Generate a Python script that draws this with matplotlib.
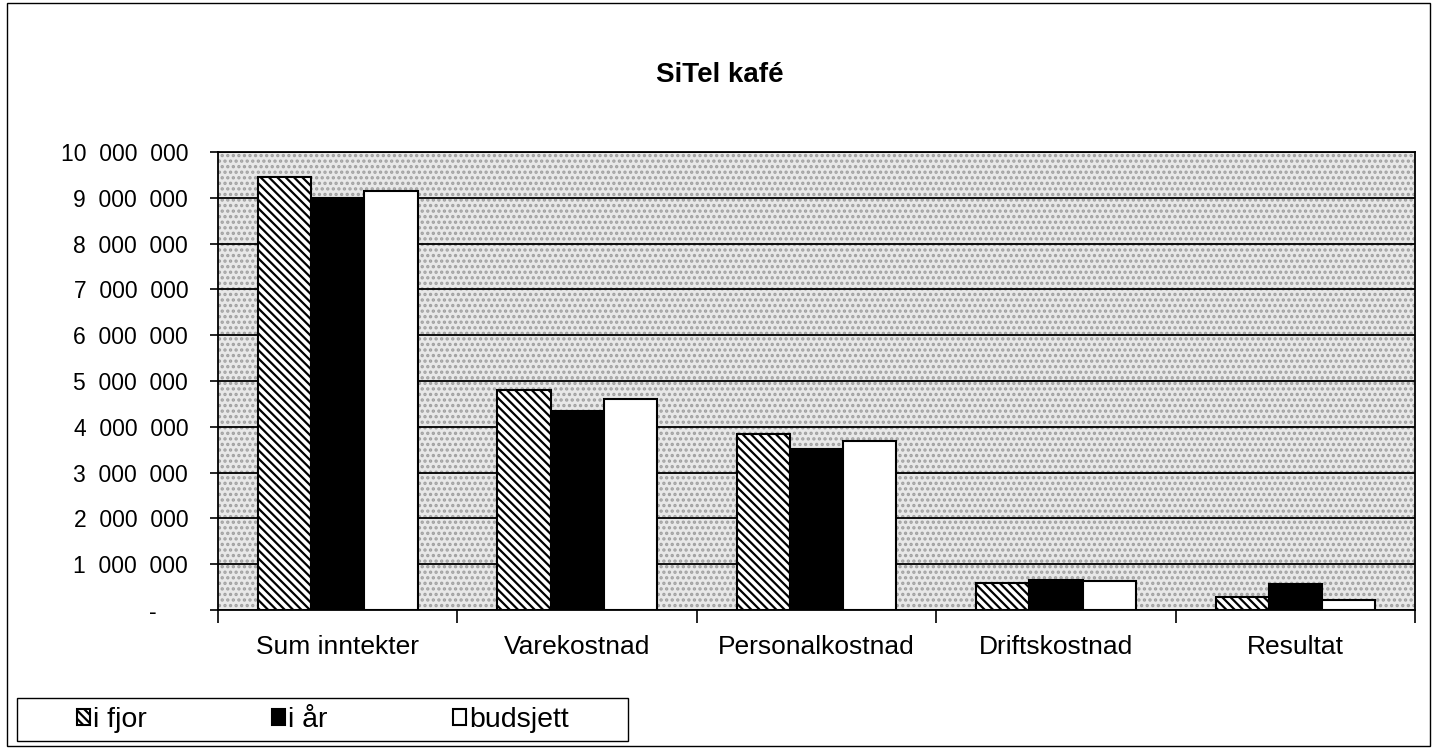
import matplotlib
matplotlib.use("Agg")
import matplotlib.pyplot as plt
import numpy as np
from matplotlib.patches import Rectangle
from matplotlib.ticker import FuncFormatter, FixedLocator

plt.rcParams['font.family'] = ['Liberation Sans', 'DejaVu Sans']
plt.rcParams['hatch.linewidth'] = 1.6

categories = ["Sum inntekter", "Varekostnad", "Personalkostnad", "Driftskostnad", "Resultat"]
i_fjor = [9450000, 4800000, 3840000, 600000, 290000]
i_aar = [9000000, 4340000, 3510000, 650000, 570000]
budsjett = [9150000, 4610000, 3700000, 640000, 220000]
series_names = ["i fjor", "i år", "budsjett"]
y_ticks = [0, 1000000, 2000000, 3000000, 4000000, 5000000, 6000000, 7000000, 8000000, 9000000, 10000000]

W, H = 1435, 751
fig = plt.figure(figsize=(W / 100, H / 100), dpi=100)
fig.patch.set_facecolor('white')

# outer chart border
fig.patches.append(Rectangle((7 / W, 1 - 746 / H), (1430 - 7) / W, (746 - 3) / H,
                             transform=fig.transFigure, fill=False, ec='black', lw=1.0))

ax = fig.add_axes([218 / W, 1 - 610 / H, (1415 - 218) / W, (610 - 152) / H])
ax.set_facecolor('#e8e8e8')
# stipple texture
ax.add_patch(Rectangle((0, 0), 1, 1, transform=ax.transAxes, facecolor='none',
                       edgecolor='#a0a0a0', hatch='...', lw=0, zorder=0))

x = np.arange(len(categories))
bw = 1 / 4.5
ax.bar(x - bw, i_fjor, bw, facecolor='white', edgecolor='black', hatch='\\\\\\\\', lw=1.5,
       label=series_names[0], zorder=3)
ax.bar(x, i_aar, bw, facecolor='black', edgecolor='black', lw=1.5, label=series_names[1], zorder=3)
ax.bar(x + bw, budsjett, bw, facecolor='white', edgecolor='black', lw=1.5, label=series_names[2], zorder=3)

ax.set_xlim(-0.5, len(categories) - 0.5)
ax.set_ylim(0, 10000000)
ax.set_yticks(y_ticks)

def fmt(v, pos):
    if v == 0:
        return "-\u2007\u2007 "
    return f"{int(v):,}".replace(",", "\u2007")
ax.yaxis.set_major_formatter(FuncFormatter(fmt))
ax.yaxis.grid(True, color='black', lw=1.3)
ax.set_axisbelow(True)

ax.set_xticks(x)
ax.set_xticklabels(categories)
ax.xaxis.set_minor_locator(FixedLocator(np.arange(-0.5, len(categories), 1.0)))
ax.tick_params(axis='x', which='major', length=0, pad=18, labelsize=19)
ax.tick_params(axis='x', which='minor', length=9, width=1.2, direction='out')
ax.tick_params(axis='y', length=6, width=1.2, direction='out', labelsize=16.5, pad=15.5)
for s in ax.spines.values():
    s.set_linewidth(1.3)
    s.set_color('black')

fig.text(720 / W, 1 - 75 / H, "SiTel kafé", ha='center', va='center', fontsize=20, fontweight='bold')

# legend box
fig.patches.append(Rectangle((17 / W, 1 - 741 / H), (628 - 17) / W, (741 - 698) / H,
                             transform=fig.transFigure, fill=False, ec='black', lw=1.0))
handles, labels = ax.get_legend_handles_labels()
leg = fig.legend(handles, labels, loc='center left', bbox_to_anchor=(77 / W, 1 - 720 / H),
                 ncol=3, frameon=False, fontsize=20.5, handlelength=0.45, handleheight=0.45,
                 handletextpad=0.12, columnspacing=4.4, borderpad=0, borderaxespad=0)

fig.savefig("out.png", dpi=100)
